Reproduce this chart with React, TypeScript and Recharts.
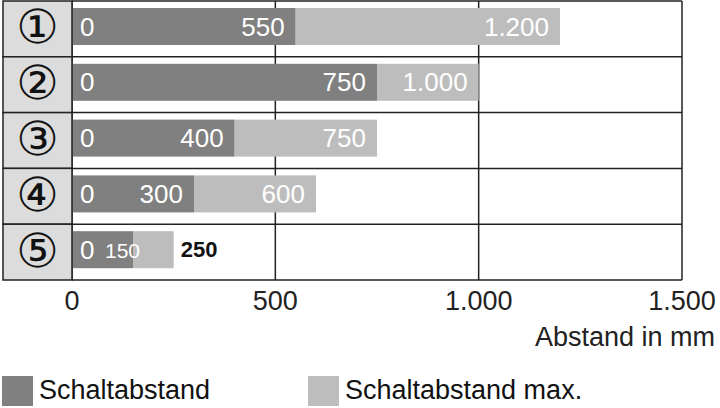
import { Bar, BarChart, CartesianGrid, LabelList, XAxis, YAxis } from 'recharts';

const rows = ['①', '②', '③', '④', '⑤'];
const schaltabstand = [550, 750, 400, 300, 150];
const schaltabstandMax = [1200, 1000, 750, 600, 250];
const xTicks = [0, 500, 1000, 1500];

const DARK = '#808080';
const LIGHT = '#bdbdbd';
const CELL = '#dcdcdc';
const LINE = '#222';
const FONT = '"Liberation Sans", Arial, sans-serif';

const W = 720;
const H = 408;
const M = { top: 1, right: 38, bottom: 0, left: 3 };
const LABEL_W = 69;
const X_AXIS_H = 128;
const PLOT_H = H - M.top - M.bottom - X_AXIS_H;
const BAND = PLOT_H / rows.length;

const data = rows.map((row, i) => ({
  row,
  dist: schaltabstand[i],
  extra: schaltabstandMax[i] - schaltabstand[i],
  max: schaltabstandMax[i],
}));

const fmt = (v: number) => String(v).replace(/\B(?=(\d{3})+(?!\d))/g, '.');

// bars sit a little above the band centre
const SHIFT = -2;
const BarShape = (p: any) => (
  <rect x={p.x} y={p.y + SHIFT} width={p.width} height={p.height} fill={p.fill} />
);

const RowTick = (p: any) => {
  const top = p.y - BAND / 2;
  return (
    <g>
      <rect x={M.left} y={top} width={LABEL_W} height={BAND} fill={CELL} stroke={LINE} strokeWidth={1.5} />
      <text
        x={M.left + LABEL_W / 2}
        y={p.y + SHIFT}
        textAnchor="middle"
        dominantBaseline="central"
        fontFamily='"DejaVu Sans", sans-serif'
        fontSize={47}
        fill="#111"
      >
        {p.payload.value}
      </text>
    </g>
  );
};

const ValueTick = (p: any) => (
  <text x={p.x} y={p.y + 22} textAnchor="middle" fontFamily={FONT} fontSize={27} fill={LINE}>
    {fmt(p.payload.value)}
  </text>
);

const DistLabel = (p: any) => {
  const cy = p.y + p.height / 2 + SHIFT;
  const narrow = p.width < 80;
  return (
    <g fontFamily={FONT} fill="#fff">
      <text x={p.x + 8} y={cy} dominantBaseline="central" fontSize={26}>
        0
      </text>
      <text
        x={narrow ? p.x + p.width + 7 : p.x + p.width - 11}
        y={cy + (narrow ? 1 : 0)}
        textAnchor="end"
        dominantBaseline="central"
        fontSize={narrow ? 21 : 26}
      >
        {fmt(p.value)}
      </text>
    </g>
  );
};

const MaxLabel = (p: any) => {
  const cy = p.y + p.height / 2 + SHIFT;
  const inside = p.width > 70;
  return (
    <text
      x={inside ? p.x + p.width - 11 : p.x + p.width + 7}
      y={cy}
      textAnchor={inside ? 'end' : 'start'}
      dominantBaseline="central"
      fontFamily={FONT}
      fontSize={inside ? 26 : 22}
      fontWeight={inside ? 'normal' : 'bold'}
      fill={inside ? '#fff' : '#111'}
    >
      {fmt(p.value)}
    </text>
  );
};

const legend = [
  { label: 'Schaltabstand', color: DARK, x: 2 },
  { label: 'Schaltabstand max.', color: LIGHT, x: 308 },
];

export default function App() {
  return (
    <div style={{ position: 'absolute', left: 0, top: 0, width: W, height: H, background: '#fff' }}>
      <BarChart width={W} height={H} data={data} layout="vertical" margin={M} barSize={37}>
        <CartesianGrid
          stroke={LINE}
          strokeWidth={1.5}
          horizontalCoordinatesGenerator={({ offset }: any) =>
            rows.map((_, i) => offset.top + i * BAND).concat(offset.top + offset.height)
          }
        />
        <XAxis
          type="number"
          domain={[0, 1500]}
          ticks={xTicks}
          axisLine={false}
          tickLine={false}
          height={X_AXIS_H}
          tick={<ValueTick />}
          interval={0}
        />
        <YAxis
          type="category"
          dataKey="row"
          width={LABEL_W}
          axisLine={false}
          tickLine={false}
          tick={<RowTick />}
        />
        <Bar dataKey="dist" stackId="a" fill={DARK} shape={<BarShape />} isAnimationActive={false}>
          <LabelList dataKey="dist" content={<DistLabel />} />
        </Bar>
        <Bar dataKey="extra" stackId="a" fill={LIGHT} shape={<BarShape />} isAnimationActive={false}>
          <LabelList dataKey="max" content={<MaxLabel />} />
        </Bar>
      </BarChart>
      <div
        style={{
          position: 'absolute',
          right: 5,
          top: 322,
          fontFamily: FONT,
          fontSize: 27,
          color: LINE,
        }}
      >
        Abstand in mm
      </div>
      {legend.map((l) => (
        <div
          key={l.label}
          style={{
            position: 'absolute',
            left: l.x,
            top: 375,
            display: 'flex',
            alignItems: 'center',
            fontFamily: FONT,
            fontSize: 27,
            color: '#111',
          }}
        >
          <span style={{ width: 31, height: 30, background: l.color, marginRight: 6 }} />
          {l.label}
        </div>
      ))}
    </div>
  );
}
